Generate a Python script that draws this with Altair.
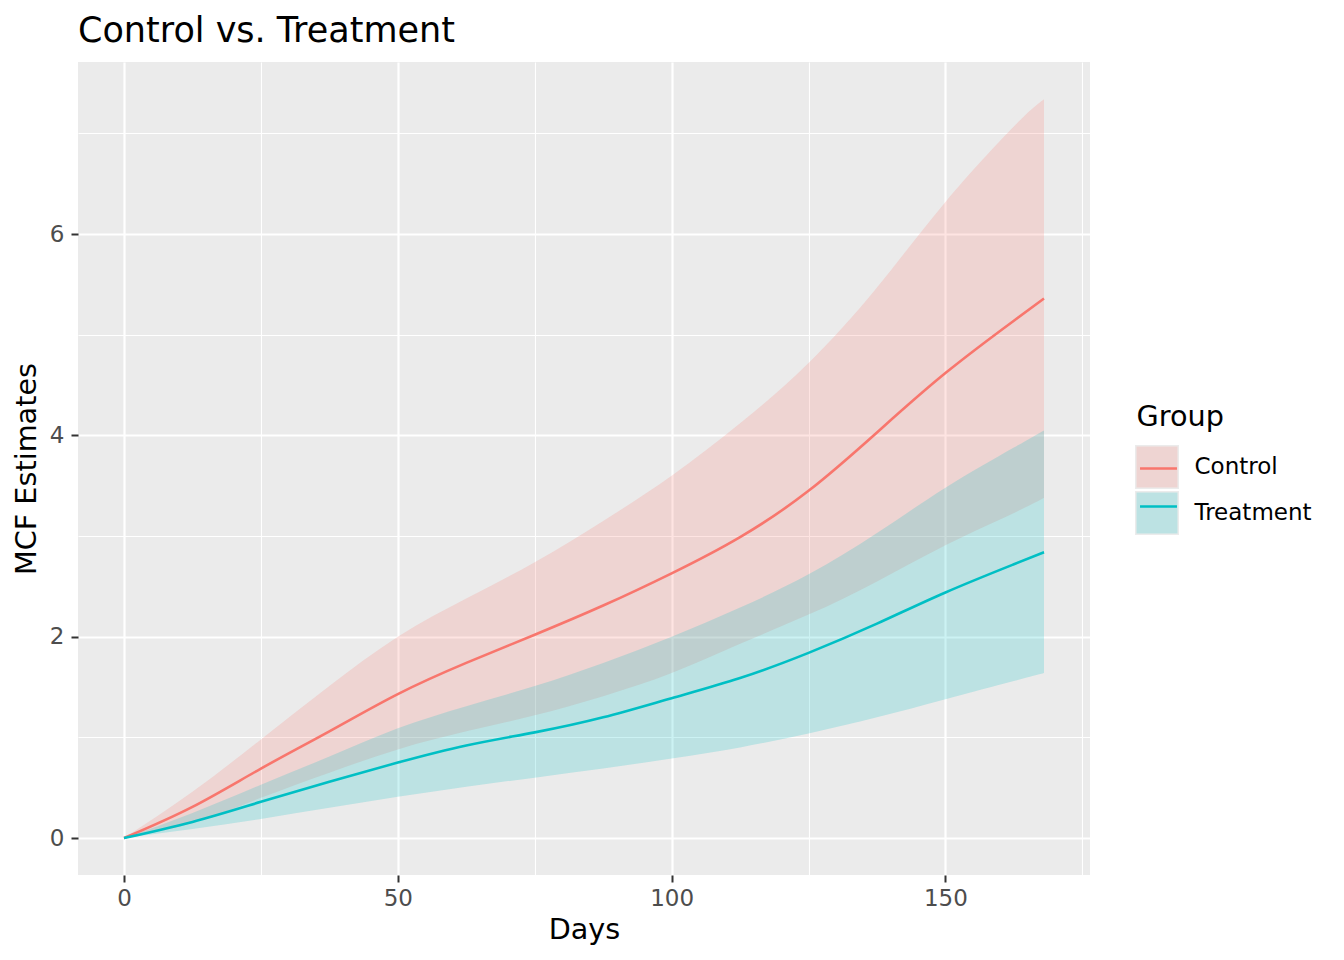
import altair as alt
import pandas as pd

# ---- data ----
days = [0, 12.5, 25, 37.5, 50, 62.5, 75, 87.5, 100, 112.5, 125, 137.5, 150, 162.5, 168]

control_mcf = [0, 0.31, 0.69, 1.06, 1.43, 1.74, 2.02, 2.31, 2.63, 2.99, 3.45, 4.03, 4.62, 5.14, 5.36]
control_upper = [0, 0.46, 0.98, 1.51, 2.00, 2.38, 2.74, 3.15, 3.60, 4.12, 4.72, 5.47, 6.32, 7.07, 7.34]
control_lower = [0, 0.15, 0.40, 0.65, 0.88, 1.06, 1.22, 1.41, 1.64, 1.93, 2.22, 2.55, 2.91, 3.23, 3.38]

treat_mcf = [0, 0.16, 0.36, 0.56, 0.75, 0.92, 1.05, 1.20, 1.39, 1.59, 1.84, 2.13, 2.44, 2.72, 2.84]
treat_upper = [0, 0.25, 0.53, 0.81, 1.09, 1.31, 1.51, 1.74, 2.00, 2.29, 2.62, 3.03, 3.48, 3.88, 4.05]
treat_lower = [0, 0.09, 0.19, 0.30, 0.41, 0.51, 0.60, 0.69, 0.79, 0.90, 1.04, 1.20, 1.38, 1.56, 1.64]

groups = ["Control", "Treatment"]
colors = ["#F8766D", "#00BFC4"]
x_ticks = [0, 25, 50, 75, 100, 125, 150, 175]
y_ticks = [0, 1, 2, 3, 4, 5, 6, 7]

rows = []
for g, m, lo, hi in [("Control", control_mcf, control_lower, control_upper),
                     ("Treatment", treat_mcf, treat_lower, treat_upper)]:
    for d, a, b, c in zip(days, m, lo, hi):
        rows.append({"Days": d, "Group": g, "GroupLine": g, "GroupKey": g,
                     "MCF": a, "Lower": b, "Upper": c})
df = pd.DataFrame(rows)

FONT = "DejaVu Sans"
INTERP = "natural"

x_axis = alt.Axis(
    values=x_ticks, format="d",
    labelExpr="datum.value % 50 == 0 ? datum.label : ''",
    gridWidth={"condition": {"test": "datum.value % 50 == 0", "value": 2.2}, "value": 1.1},
    tickOpacity={"condition": {"test": "datum.value % 50 == 0", "value": 1}, "value": 0},
    labelPadding=5.5,
    titleX=506, titleY=63, titleBaseline="alphabetic", titleAlign="center",
)
y_axis = alt.Axis(
    values=y_ticks, format="d",
    labelExpr="datum.value % 2 == 0 ? datum.label : ''",
    gridWidth={"condition": {"test": "datum.value % 2 == 0", "value": 2.2}, "value": 1.1},
    tickOpacity={"condition": {"test": "datum.value % 2 == 0", "value": 1}, "value": 0},
    labelPadding=7,
    titleX=-43, titleY=406.5, titleAngle=-90, titleBaseline="alphabetic", titleAlign="center",
)

x_enc = alt.X("Days:Q", title="Days", axis=x_axis,
              scale=alt.Scale(domain=[-8.4, 176.4], nice=False, zero=False))
y_enc = alt.Y("MCF:Q", title="MCF Estimates", axis=y_axis,
              scale=alt.Scale(domain=[-0.367, 7.71], nice=False, zero=False))

LX, LY = 1057, 343
TITLE_BLOCK = 28.7 + 11.3          # legend title height + title padding
leg_text = dict(titleFont=FONT, titleFontSize=28.7, titleFontWeight="normal", titleColor="black",
                labelFont=FONT, labelFontSize=23, labelColor="black", padding=0,
                orient="none")
hidden = dict(title=None, labelExpr="''", labelFont=FONT, labelFontSize=23,
              padding=0, orient="none")

# key backgrounds (legend only, marks drawn with zero size)
keys = alt.Chart(df).mark_point(filled=True, size=0, color="#EBEBEB", opacity=1).encode(
    x=x_enc, y=y_enc,
    shape=alt.Shape("GroupKey:N", scale=alt.Scale(range=["square", "square"]),
                    legend=alt.Legend(symbolSize=1936, symbolFillColor="#EBEBEB",
                                      symbolStrokeWidth=0, symbolOpacity=1,
                                      rowPadding=2,
                                      legendX=LX, legendY=LY + TITLE_BLOCK, **hidden)),
)

bands = alt.Chart(df).mark_area(opacity=0.2, interpolate=INTERP).encode(
    x=x_enc,
    y=alt.Y("Lower:Q", scale=alt.Scale(domain=[-0.367, 7.71], nice=False, zero=False)),
    y2="Upper:Q",
    fill=alt.Fill("Group:N", scale=alt.Scale(domain=groups, range=colors),
                  legend=alt.Legend(title="Group", symbolType="square", symbolSize=1681,
                                    symbolStrokeWidth=0, symbolOpacity=0.2,
                                    rowPadding=5, titlePadding=14.8, labelOffset=17,
                                    legendX=LX + 1.5, legendY=LY - 2, **leg_text)),
)

lines = alt.Chart(df).mark_line(strokeWidth=2.6, interpolate=INTERP).encode(
    x=x_enc, y=y_enc,
    stroke=alt.Stroke("GroupLine:N", scale=alt.Scale(range=colors),
                      legend=alt.Legend(symbolType="M-0.84,0H0.84", symbolSize=1936,
                                        symbolStrokeWidth=2.6, rowPadding=2,
                                        legendX=LX, legendY=LY + TITLE_BLOCK, **hidden)),
)

chart = alt.layer(keys, bands, lines).properties(
    width=1012, height=813,
    background="white",
    title=alt.TitleParams("Control vs. Treatment", anchor="start", frame="group",
                          font=FONT, fontSize=35, fontWeight="normal", color="black",
                          offset=13),
    autosize=alt.AutoSizeParams(type="none"),
    padding={"left": 70, "top": 54, "right": 240, "bottom": 74},
).configure_view(
    fill="#EBEBEB", stroke=None
).configure_axis(
    labelFont=FONT, labelFontSize=23, labelColor="#4D4D4D",
    titleFont=FONT, titleFontSize=28.7, titleFontWeight="normal", titleColor="black",
    tickColor="#333333", tickSize=7, tickWidth=2,
    domain=False, grid=True, gridColor="white",
)

chart.save("out.html", embed_options={"renderer": "svg", "actions": False})
